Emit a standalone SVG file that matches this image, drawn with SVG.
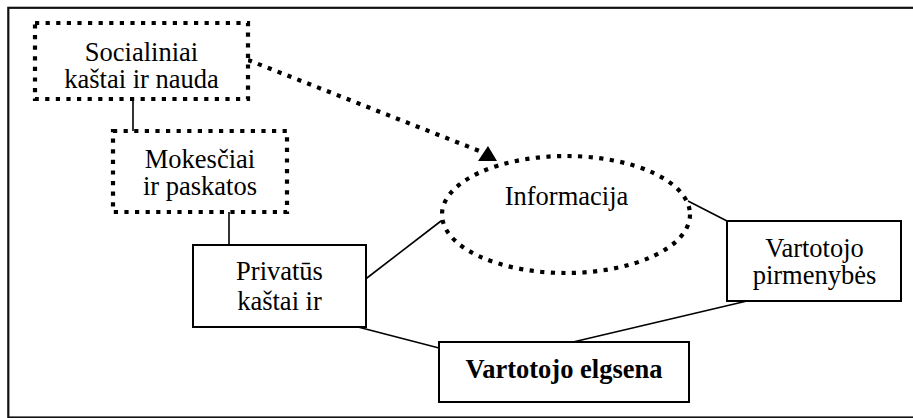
<svg xmlns="http://www.w3.org/2000/svg" width="913" height="418" viewBox="0 0 913 418">
  <style>
    .frame { fill: none; stroke: #111; stroke-width: 2.2; }
    .box { fill: #fff; stroke: #000; stroke-width: 2; }
    .dotted { fill: #fff; stroke: #000; stroke-width: 4.2; stroke-dasharray: 4.2 6.4; }
    .link { fill: none; stroke: #000; stroke-width: 1.6; }
    .dotlink { fill: none; stroke: #000; stroke-width: 4.2; stroke-dasharray: 4.2 6.4; }
    text { font-family: 'Liberation Serif', 'DejaVu Serif', serif; font-size: 26.5px; fill: #000; text-anchor: middle; }
    .bold { font-weight: bold; }
  </style>

  <!-- outer frame (right side runs past the page edge) -->
  <rect class="frame" x="8.3" y="7.8" width="930" height="409.7"/>

  <!-- connectors -->
  <g id="connectors">
    <line class="link" x1="133" y1="99" x2="133" y2="131"/>
    <line class="link" x1="229" y1="212" x2="229" y2="245"/>
    <line class="link" x1="363" y1="281" x2="441" y2="221"/>
    <line class="link" x1="358" y1="327" x2="439" y2="348"/>
    <line class="link" x1="688" y1="201" x2="727" y2="221"/>
    <line class="link" x1="747" y1="301" x2="573" y2="342"/>
    <line class="dotlink" x1="248" y1="60" x2="482" y2="152"/>
    <polygon points="478,161 497,161 488,146" fill="#000"/>
  </g>

  <g id="node-socialiniai">
    <rect class="dotted" x="35" y="23" width="213" height="76"/>
    <text x="141.5" y="61">Socialiniai</text>
    <text x="141.5" y="88">kaštai ir nauda</text>
  </g>

  <g id="node-mokesciai">
    <rect class="dotted" x="113" y="131" width="174" height="81"/>
    <text x="200" y="168">Mokesčiai</text>
    <text x="200" y="195">ir paskatos</text>
  </g>

  <g id="node-informacija">
    <ellipse class="dotted" cx="566" cy="214.5" rx="124" ry="58.5"/>
    <text x="566.5" y="205">Informacija</text>
  </g>

  <g id="node-privatus">
    <rect class="box" x="193" y="245" width="173" height="82"/>
    <text x="279.5" y="280">Privatūs</text>
    <text x="279.5" y="310">kaštai ir</text>
  </g>

  <g id="node-pirmenybes">
    <rect class="box" x="727" y="221" width="174" height="80"/>
    <text x="814.5" y="257">Vartotojo</text>
    <text x="814.5" y="284">pirmenybės</text>
  </g>

  <g id="node-elgsena">
    <rect class="box" x="439" y="342" width="250" height="60"/>
    <text class="bold" x="564" y="378">Vartotojo elgsena</text>
  </g>
</svg>
